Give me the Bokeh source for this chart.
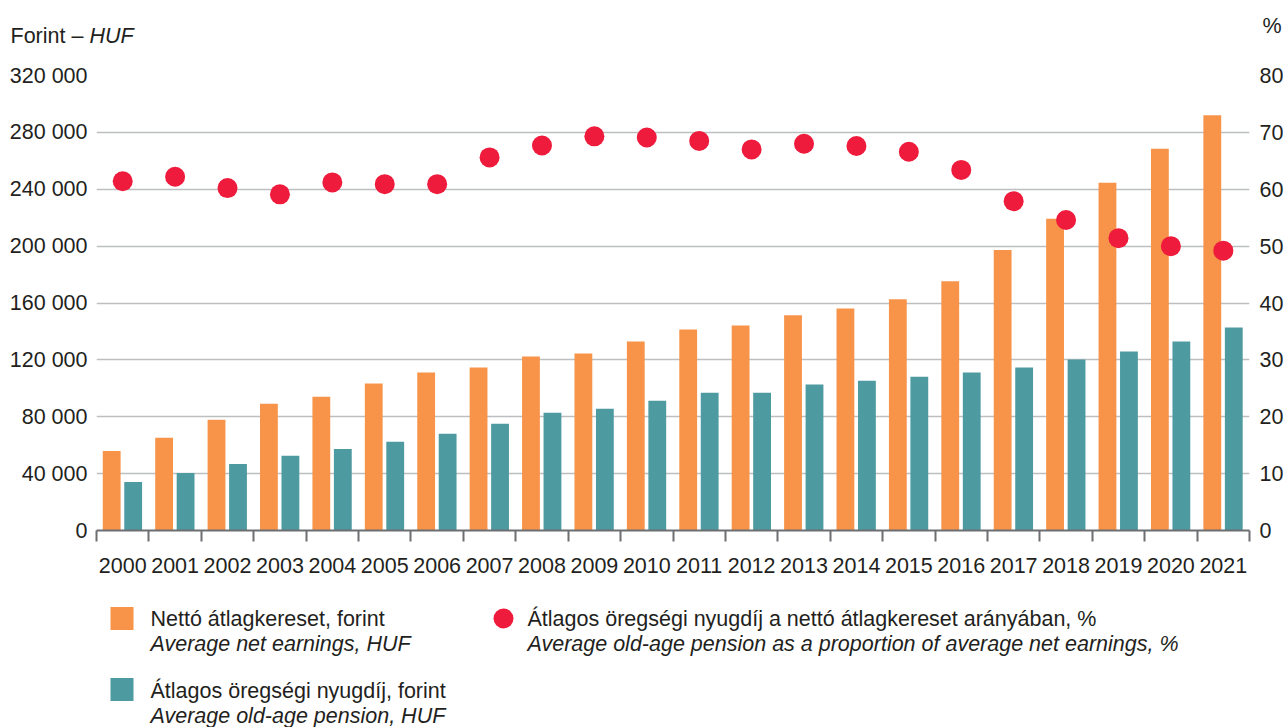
from bokeh.plotting import figure
from bokeh.models import ColumnDataSource, Range1d, LinearAxis, FixedTicker
from bokeh.transform import dodge
from bokeh.core.properties import value
from bokeh.embed import file_html
from bokeh.resources import INLINE

# ---- data ----
years = [2000, 2001, 2002, 2003, 2004, 2005, 2006, 2007, 2008, 2009, 2010,
         2011, 2012, 2013, 2014, 2015, 2016, 2017, 2018, 2019, 2020, 2021]
net_earnings = [56000, 65200, 77900, 89200, 94100, 103300, 111100, 114600, 122400, 124500, 132900,
                141400, 144200, 151300, 156200, 162600, 175300, 197200, 219300, 244500, 268500, 292000]
pension = [34100, 40500, 46800, 52500, 57400, 62400, 68000, 75100, 82800, 85600, 91300,
           96900, 96900, 102600, 105400, 108200, 111100, 114600, 120200, 125900, 132900, 142800]
ratio_pct = [61.4, 62.2, 60.2, 59.1, 61.2, 60.9, 60.9, 65.6, 67.7, 69.3, 69.1,
             68.5, 67.0, 68.0, 67.6, 66.6, 63.4, 57.9, 54.6, 51.4, 50.0, 49.2]
left_ticks = [0, 40000, 80000, 120000, 160000, 200000, 240000, 280000, 320000]
right_ticks = [0, 10, 20, 30, 40, 50, 60, 70, 80]
left_title = ["Forint – ", "HUF"]
right_title = "%"
legend_hu = ["Nettó átlagkereset, forint", "Átlagos öregségi nyugdíj, forint",
             "Átlagos öregségi nyugdíj a nettó átlagkereset arányában, %"]
legend_en = ["Average net earnings, HUF", "Average old-age pension, HUF",
             "Average old-age pension as a proportion of average net earnings, %"]

ORANGE = "#F7944A"
TEAL = "#4E9AA1"
RED = "#EE1B3C"
TXT = "#231F20"
FONT = "Liberation Sans"
FS = "21.5px"
W = 1286


def blank(height):
    f = figure(width=W, height=height, x_range=Range1d(0, W), y_range=Range1d(height, 0),
               output_backend="svg", toolbar_location=None, x_axis_type=None, y_axis_type=None,
               min_border=0)
    f.outline_line_color = None
    f.xgrid.grid_line_color = None
    f.ygrid.grid_line_color = None
    return f


# ---- header ----
HH = 55
head = blank(HH)
head.text(x=[10], y=[35], text=[left_title[0]], text_font=value(FONT), text_font_size=FS,
          text_color=TXT, text_baseline="middle")
head.text(x=[89], y=[35], text=[left_title[1]], text_font=value(FONT), text_font_size=FS,
          text_color=TXT, text_baseline="middle", text_font_style="italic")
head.text(x=[1262], y=[25], text=[right_title], text_font=value(FONT), text_font_size=FS,
          text_color=TXT, text_baseline="middle")

# ---- main chart ----
src = ColumnDataSource(dict(year=years, net=net_earnings, pen=pension, ratio=ratio_pct))

p = figure(width=W, height=537, x_range=Range1d(years[0] - 0.5, years[-1] + 0.5),
           y_range=Range1d(left_ticks[0], left_ticks[-1]),
           output_backend="svg", toolbar_location=None,
           min_border_left=96, min_border_right=34, min_border_top=20, min_border_bottom=62)
p.outline_line_color = None
p.extra_y_ranges = {"pct": Range1d(right_ticks[0], right_ticks[-1])}

p.vbar(x=dodge("year", -0.21), top="net", width=0.34, source=src, color=ORANGE, line_color=None)
p.vbar(x=dodge("year", 0.2), top="pen", width=0.34, source=src, color=TEAL, line_color=None)
p.scatter(x="year", y="ratio", y_range_name="pct", source=src, size=20,
          fill_color=RED, line_color=None)

p.xgrid.grid_line_color = None
p.ygrid.grid_line_color = "#BCBEC0"
p.ygrid.grid_line_width = 1.5

ya = p.yaxis[0]
ya.ticker = FixedTicker(ticks=left_ticks)
ya.major_label_overrides = {t: f"{t:,}".replace(",", " ") for t in left_ticks}
ya.axis_line_color = None
ya.major_tick_line_color = None
ya.minor_tick_line_color = None
ya.major_tick_out = 0
ya.major_label_standoff = 9
ya.major_label_text_font = FONT
ya.major_label_text_font_size = FS
ya.major_label_text_color = TXT

ra = LinearAxis(y_range_name="pct", ticker=FixedTicker(ticks=right_ticks))
ra.axis_line_color = None
ra.major_tick_line_color = None
ra.minor_tick_line_color = None
ra.major_tick_out = 0
ra.major_label_standoff = 10
ra.major_label_text_font = FONT
ra.major_label_text_font_size = FS
ra.major_label_text_color = TXT
p.add_layout(ra, "right")

xa = p.xaxis[0]
bounds = [y - 0.5 for y in years] + [years[-1] + 0.5]
xa.ticker = FixedTicker(ticks=years, minor_ticks=bounds)
xa.major_label_overrides = {y: str(y) for y in years}
xa.axis_line_color = "#6D6E71"
xa.axis_line_width = 2
xa.major_tick_line_color = None
xa.major_tick_out = 0
xa.major_tick_in = 0
xa.minor_tick_line_color = "#6D6E71"
xa.minor_tick_line_width = 2
xa.minor_tick_out = 11
xa.minor_tick_in = 0
xa.major_label_standoff = 16
xa.major_label_text_font = FONT
xa.major_label_text_font_size = FS
xa.major_label_text_color = TXT

# ---- legend ----
LH = 135
leg = blank(LH)
leg.rect(x=[121.5, 121.5], y=[26, 97], width=23, height=23, fill_color=[ORANGE, TEAL],
         line_color=None)
leg.scatter(x=[503], y=[26], size=20, fill_color=RED, line_color=None)
leg.text(x=[150, 150, 527], y=[26, 98, 26], text=legend_hu, text_font=value(FONT),
         text_font_size=FS, text_color=TXT, text_baseline="middle")
leg.text(x=[150, 150, 527], y=[51, 123, 51], text=legend_en, text_font=value(FONT),
         text_font_size=FS, text_color=TXT, text_baseline="middle", text_font_style="italic")

open("out.html", "w").write(file_html([head, p, leg], INLINE))
